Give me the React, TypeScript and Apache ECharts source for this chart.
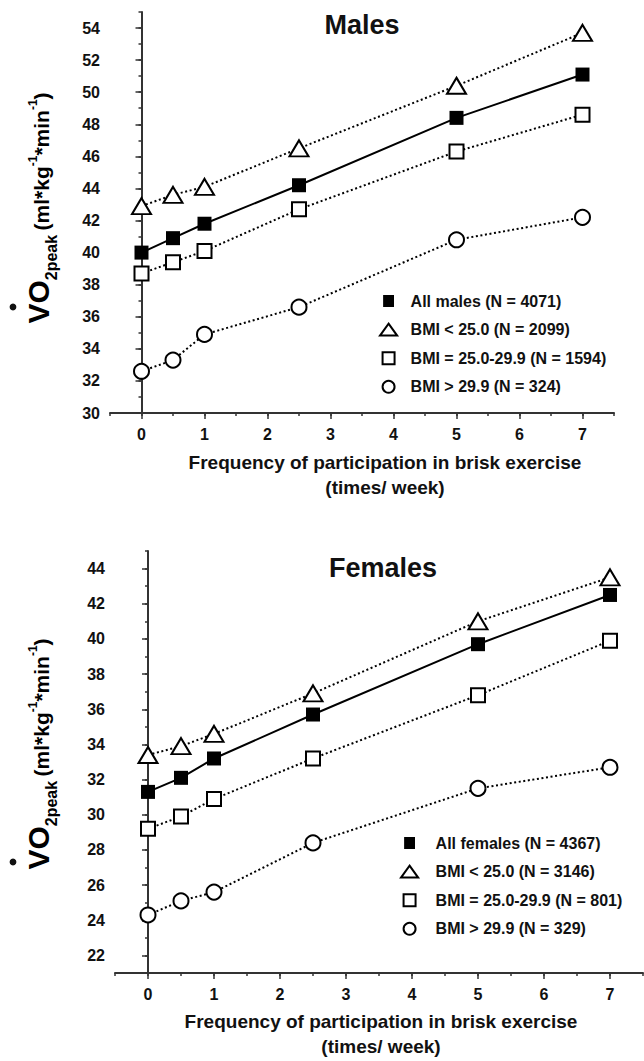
import React, { useEffect, useRef } from 'react';
import * as echarts from 'echarts';

const FONT = '"Liberation Sans", Arial, Helvetica, sans-serif';

// Frequency of brisk exercise (times / week)
const freq = [0, 0.5, 1, 2.5, 5, 7];

// Males VO2peak
const maleAll = [40.0, 40.9, 41.8, 44.2, 48.4, 51.1];
const maleLean = [42.9, 43.6, 44.1, 46.5, 50.4, 53.7];
const maleOver = [38.7, 39.4, 40.1, 42.7, 46.3, 48.6];
const maleObese = [32.6, 33.3, 34.9, 36.6, 40.8, 42.2];

// Females VO2peak
const femaleAll = [31.3, 32.1, 33.2, 35.7, 39.7, 42.5];
const femaleLean = [33.4, 33.9, 34.6, 36.9, 41.0, 43.5];
const femaleOver = [29.2, 29.9, 30.9, 33.2, 36.8, 39.9];
const femaleObese = [24.3, 25.1, 25.6, 28.4, 31.5, 32.7];

const maleNames = [
  'All males (N = 4071)',
  'BMI < 25.0 (N = 2099)',
  'BMI = 25.0-29.9 (N = 1594)',
  'BMI > 29.9 (N = 324)',
];
const femaleNames = [
  'All females (N = 4367)',
  'BMI < 25.0 (N = 3146)',
  'BMI = 25.0-29.9 (N = 801)',
  'BMI > 29.9 (N = 329)',
];

const titles = ['Males', 'Females'];
const xTitle = 'Frequency of participation in brisk exercise\n(times/ week)';

const AX = '#333';
const TXT = '#111';

const styles = [
  { symbol: 'rect', size: 14, fill: '#000', dash: 'solid' },
  { symbol: 'triangle', size: [19, 16], fill: '#fff', dash: [2, 2.6] },
  { symbol: 'rect', size: 14, fill: '#fff', dash: [2, 2.6] },
  { symbol: 'circle', size: 15, fill: '#fff', dash: [2, 2.6] },
];

const legendIcons = [
  'path://M0,0h10v11h-10z',
  'path://M10,0L20,14L0,14Z',
  'path://M0,0h12v12h-12z',
  'circle',
];

function mkSeries(names: string[], sets: number[][], gi: number) {
  return sets.map((vals, k) => {
    const st = styles[k];
    return {
      type: 'line',
      name: names[k],
      xAxisIndex: gi * 2,
      yAxisIndex: gi * 2,
      data: freq.map((x, i) => [x, vals[i]]),
      symbol: st.symbol,
      symbolSize: st.size,
      showSymbol: true,
      itemStyle: {
        color: st.fill,
        borderColor: '#000',
        borderWidth: k === 0 ? 0 : 2,
      },
      lineStyle: { color: '#000', width: 2, type: st.dash },
      z: 3 + k,
    };
  });
}

function mkLegend(names: string[], left: number, top: number, itemWidth: number) {
  return {
    orient: 'vertical',
    left,
    top,
    itemWidth,
    itemHeight: 12,
    itemGap: 12.6,
    selectedMode: false,
    textStyle: { fontSize: 16, fontWeight: 'bold', color: TXT, fontFamily: FONT },
    data: names.map((n, k) => ({
      name: n,
      icon: legendIcons[k],
      itemStyle:
        k === 0
          ? { color: '#000', borderWidth: 0 }
          : { color: '#fff', borderColor: '#000', borderWidth: 2 },
    })),
  };
}

const intFmt = (v: number) => (Number.isInteger(v) ? String(v) : '');

function mainX(gi: number) {
  return {
    type: 'value',
    gridIndex: gi,
    min: -0.5,
    max: 7.5,
    splitNumber: 8,
    position: 'bottom',
    axisLine: { lineStyle: { color: AX, width: 2 } },
    axisTick: { length: 6, lineStyle: { color: AX, width: 1.5 } },
    axisLabel: {
      showMinLabel: false,
      showMaxLabel: false,
      formatter: intFmt,
      fontSize: 16,
      fontWeight: 'bold',
      color: TXT,
      fontFamily: FONT,
      margin: 13,
    },
    splitLine: { show: false },
  };
}
function minorX(gi: number) {
  return {
    type: 'value',
    gridIndex: gi,
    min: -0.5,
    max: 7.5,
    interval: 0.5,
    position: 'bottom',
    axisLine: { show: false },
    axisTick: { length: 3, lineStyle: { color: AX, width: 1.5 } },
    axisLabel: { show: false },
    splitLine: { show: false },
  };
}
function mainY(gi: number, min: number, max: number) {
  return {
    type: 'value',
    gridIndex: gi,
    min,
    max,
    splitNumber: Math.round((max - min) / 2),
    position: 'left',
    axisLine: { show: true, lineStyle: { color: AX, width: 2 } },
    axisTick: { show: true, length: 6, lineStyle: { color: AX, width: 1.5 } },
    axisLabel: {
      showMinLabel: min % 2 === 0,
      showMaxLabel: false,
      formatter: intFmt,
      fontSize: 16,
      fontWeight: 'bold',
      color: TXT,
      fontFamily: FONT,
      margin: 10,
    },
    splitLine: { show: false },
  };
}
function minorY(gi: number, min: number, max: number) {
  return {
    type: 'value',
    gridIndex: gi,
    min,
    max,
    interval: 1,
    position: 'left',
    axisLine: { show: false },
    axisTick: { show: true, length: 3, lineStyle: { color: AX, width: 1.5 } },
    axisLabel: { show: false },
    splitLine: { show: false },
  };
}

const base = { fontWeight: 'bold', fontFamily: FONT, color: TXT, lineHeight: 40, verticalAlign: 'bottom' };
const yRich = {
  vo: { ...base, fontSize: 30, padding: [0, 0, 6, 0] },
  sub: { ...base, fontSize: 16, padding: [0, 0, 0, 0] },
  u: { ...base, fontSize: 21, padding: [0, 0, 7, 0] },
  sup: { ...base, fontSize: 12, padding: [0, 0, 20, 0] },
};
const yTitleText = '{vo|VO}{sub|2peak }{u|(ml*kg}{sup|-1}{u|*min}{sup|-1}{u|)}';

function yTitle(cx: number, cy: number, dotX: number, dotY: number) {
  return [
    {
      type: 'text',
      x: cx,
      y: cy,
      rotation: Math.PI / 2,
      style: { text: yTitleText, rich: yRich, align: 'center', verticalAlign: 'middle' },
    },
    { type: 'circle', shape: { cx: dotX, cy: dotY, r: 3.4 }, style: { fill: TXT } },
  ];
}

function titleText(text: string, x: number, y: number) {
  return {
    type: 'text',
    x,
    y,
    style: {
      text,
      fontSize: 27,
      fontWeight: 'bold',
      fontFamily: FONT,
      fill: TXT,
      align: 'center',
      verticalAlign: 'middle',
    },
  };
}
function xTitleText(x: number, y: number) {
  return {
    type: 'text',
    x,
    y,
    style: {
      text: xTitle,
      fontSize: 19,
      fontWeight: 'bold',
      fontFamily: FONT,
      fill: TXT,
      align: 'center',
      verticalAlign: 'middle',
      lineHeight: 25,
    },
  };
}

export default function App() {
  const ref = useRef<HTMLDivElement>(null);
  useEffect(() => {
    document.body.style.margin = '0';
    if (!ref.current) return;
    const chart = echarts.init(ref.current, null, { renderer: 'svg' });
    chart.setOption({
      animation: false,
      backgroundColor: '#fff',
      grid: [
        { left: 110, top: 12, width: 504, height: 401 },
        { left: 115, top: 551, width: 528, height: 422 },
      ],
      xAxis: [mainX(0), minorX(0), mainX(1), minorX(1)],
      yAxis: [mainY(0, 30, 55), minorY(0, 30, 55), mainY(1, 21, 45), minorY(1, 21, 45)],
      legend: [mkLegend(maleNames, 374, 288, 34), mkLegend(femaleNames, 395, 830, 42)],
      series: [
        ...mkSeries(maleNames, [maleAll, maleLean, maleOver, maleObese], 0),
        ...mkSeries(femaleNames, [femaleAll, femaleLean, femaleOver, femaleObese], 1),
      ],
      graphic: [
        titleText(titles[0], 362, 25),
        titleText(titles[1], 383, 568),
        xTitleText(385, 475),
        xTitleText(381, 1034),
        ...yTitle(39, 208, 13, 307),
        ...yTitle(39, 754, 13, 862),
      ],
    });
    return () => chart.dispose();
  }, []);
  return <div ref={ref} style={{ width: 644, height: 1061 }} />;
}
